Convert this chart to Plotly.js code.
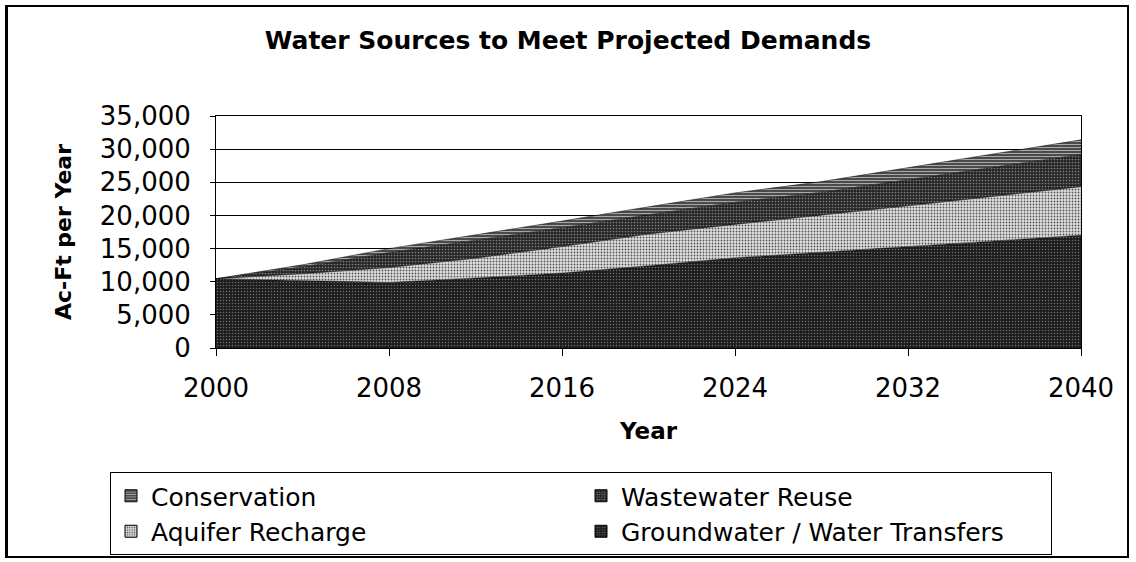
<!DOCTYPE html>
<html>
<head>
<meta charset="utf-8">
<script src="https://cdn.plot.ly/plotly-3.0.1.min.js"></script>
<style>
  html, body { margin: 0; padding: 0; background: #fff; }
  #wrap { position: relative; width: 1136px; height: 562px; }
  #chart { width: 1136px; height: 562px; }
  #frame { position: absolute; left: 5px; top: 5px; width: 1124px; height: 553px;
           border: 2px solid #000; border-left-width: 3px; pointer-events: none; box-sizing: border-box; }
</style>
</head>
<body>
<div id="wrap">
  <div id="chart"></div>
  <div id="frame"></div>
</div>
<script>
// ---- data ----
const years        = [2000, 2004, 2008, 2012, 2016, 2020, 2024, 2028, 2032, 2036, 2040];
const groundwater  = [10450, 10150, 9880, 10550, 11300, 12400, 13600, 14450, 15300, 16150, 17000];
const recharge     = [0, 1050, 2260, 3000, 4000, 4800, 5050, 5550, 6150, 6750, 7340];
const wastewater   = [0, 1050, 2250, 2700, 2850, 2900, 3350, 3500, 3950, 4500, 4860];
const conservation = [0, 300, 600, 800, 1000, 1200, 1400, 1600, 1800, 2000, 2200];

const xTicks = [2000, 2008, 2016, 2024, 2032, 2040];
const yTicks = [0, 5000, 10000, 15000, 20000, 25000, 30000, 35000];

const names = {
  gw: 'Groundwater / Water Transfers',
  ar: 'Aquifer Recharge',
  ww: 'Wastewater Reuse',
  co: 'Conservation'
};

const colors = {gw: '#262626', ar: '#c2c2c2', ww: '#363636', co: '#646464'};
const patterns = {
  gw: {shape: '.', bgcolor: '#1c1c1c', fgcolor: '#6e6e6e', size: 3, solidity: 0.2},
  ar: {shape: '.', bgcolor: '#e0e0e0', fgcolor: '#555555', size: 3, solidity: 0.3},
  ww: {shape: '.', bgcolor: '#262626', fgcolor: '#808080', size: 3, solidity: 0.25},
  co: {shape: '-', bgcolor: '#4a4a4a', fgcolor: '#a8a8a8', size: 3, solidity: 0.35}
};

function area(key, vals) {
  return {
    type: 'scatter', mode: 'lines', x: years, y: vals, name: names[key],
    stackgroup: 'one', line: {color: '#000', width: 0.5},
    fillcolor: colors[key], fillpattern: patterns[key],
    showlegend: false, legendgroup: key, hoverinfo: 'x+y+name'
  };
}
function legendEntry(key) {
  return {
    type: 'bar', x: [null], y: [null], name: names[key], legendgroup: key,
    marker: {color: colors[key], pattern: patterns[key], line: {color: '#000', width: 1}},
    showlegend: true
  };
}

const traces = [
  area('gw', groundwater),
  area('ar', recharge),
  area('ww', wastewater),
  area('co', conservation),
  legendEntry('co'), legendEntry('ww'), legendEntry('ar'), legendEntry('gw')
];

const F = 'DejaVu Sans, Arial, sans-serif';
const layout = {
  width: 1136, height: 562,
  margin: {l: 216, r: 55, t: 116, b: 214, autoexpand: false},
  paper_bgcolor: '#fff', plot_bgcolor: '#fff',
  font: {family: F, color: '#000'},
  title: {text: '<b>Water Sources to Meet Projected Demands</b>', font: {family: F, size: 25, color: '#000'},
          x: 0.5, xref: 'container', xanchor: 'center', y: 1 - 40/562, yref: 'container', yanchor: 'middle'},
  xaxis: {
    type: 'linear', range: [2000, 2040], tickvals: xTicks, ticktext: xTicks.map(String),
    showgrid: false, zeroline: false, showline: true, mirror: true, linecolor: '#000', linewidth: 1,
    ticks: 'outside', ticklen: 7, tickcolor: '#000', tickfont: {family: F, size: 26, color: '#000'},
    ticklabelstandoff: 10,
    title: {text: '<b>Year</b>', font: {family: F, size: 23, color: '#000'}, standoff: 20}
  },
  yaxis: {
    range: [0, 35000], tickvals: yTicks, ticktext: yTicks.map(v => v.toLocaleString('en-US')),
    showgrid: true, gridcolor: '#000', gridwidth: 1, zeroline: false,
    showline: true, mirror: true, linecolor: '#000', linewidth: 1,
    ticks: 'outside', ticklen: 5, tickcolor: '#000', tickfont: {family: F, size: 26, color: '#000'},
    ticklabelstandoff: 14,
    title: {text: '<b>Ac-Ft per Year</b>', font: {family: F, size: 22, color: '#000'}, standoff: 22}
  },
  legend: {
    orientation: 'h', x: (110 - 216) / 865, xanchor: 'left', y: (348 - 472) / 232, yanchor: 'top',
    bordercolor: '#000', borderwidth: 1, bgcolor: '#fff', traceorder: 'normal',
    font: {family: F, size: 25, color: '#000'},
    entrywidth: 425, entrywidthmode: 'pixels'
  },
  showlegend: true
};

Plotly.newPlot('chart', traces, layout, {displayModeBar: false, staticPlot: true});
</script>
</body>
</html>
